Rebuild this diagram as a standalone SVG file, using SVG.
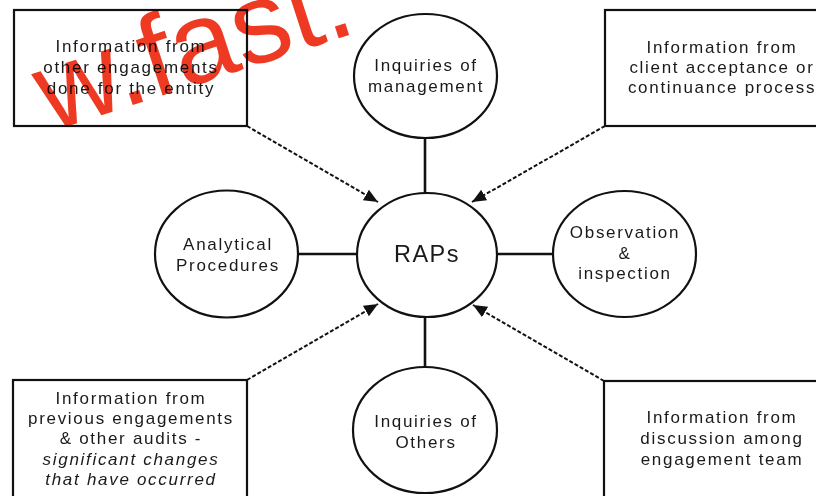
<svg xmlns="http://www.w3.org/2000/svg" width="816" height="496" viewBox="0 0 816 496">
<style>
.box{fill:#fff;stroke:#111;stroke-width:2.2}
.node{fill:#fff;stroke:#111;stroke-width:2.2}
.t{font-family:"Liberation Sans",Arial,sans-serif;font-size:17px;letter-spacing:1.7px;fill:#1a1a1a;text-anchor:middle}
.it{font-style:italic}
.big{font-size:23.5px;letter-spacing:1.5px}
.solid{stroke:#111;stroke-width:2.6;fill:none}
.dash{stroke:#111;stroke-width:2;fill:none;stroke-dasharray:4 2}
.wm{font-family:"Liberation Sans",Arial,sans-serif;font-size:115px;fill:#ee3a22;mix-blend-mode:multiply}
</style>
<defs>
<marker id="ah" markerUnits="userSpaceOnUse" markerWidth="16" markerHeight="14" refX="14" refY="6" orient="auto">
<path d="M0,0 L14,6 L0,12 Z" fill="#111"/>
</marker>
</defs>
<rect width="816" height="496" fill="#fff"/>

<g id="connectors">
<line class="solid" x1="425" y1="138" x2="425" y2="193"/>
<line class="solid" x1="425" y1="317" x2="425" y2="367"/>
<line class="solid" x1="298" y1="254" x2="357" y2="254"/>
<line class="solid" x1="497" y1="254" x2="554" y2="254"/>
<line class="dash" x1="247" y1="126" x2="378" y2="202" marker-end="url(#ah)"/>
<line class="dash" x1="605" y1="126" x2="472" y2="202" marker-end="url(#ah)"/>
<line class="dash" x1="247" y1="380" x2="378" y2="304" marker-end="url(#ah)"/>
<line class="dash" x1="604" y1="381" x2="473" y2="305" marker-end="url(#ah)"/>
</g>

<g id="box-other-engagements">
<rect class="box" x="14" y="10" width="233" height="116"/>
<text class="t" x="131" y="52">Information from</text>
<text class="t" x="131" y="73">other engagements</text>
<text class="t" x="131" y="94">done for the entity</text>
</g>

<g id="box-client-acceptance">
<rect class="box" x="605" y="10" width="240" height="116"/>
<text class="t" x="722" y="53">Information from</text>
<text class="t" x="722" y="73">client acceptance or</text>
<text class="t" x="722" y="93">continuance process</text>
</g>

<g id="box-previous-engagements">
<rect class="box" x="13" y="380" width="234" height="130"/>
<text class="t" x="131" y="404">Information from</text>
<text class="t" x="131" y="424">previous engagements</text>
<text class="t" x="131" y="444">&amp; other audits -</text>
<text class="t it" x="131" y="465">significant changes</text>
<text class="t it" x="131" y="485">that have occurred</text>
</g>

<g id="box-discussion">
<rect class="box" x="604" y="381" width="240" height="130"/>
<text class="t" x="722" y="423">Information from</text>
<text class="t" x="722" y="444">discussion among</text>
<text class="t" x="722" y="465">engagement team</text>
</g>

<g id="node-inquiries-management">
<ellipse class="node" cx="425.5" cy="76" rx="71.5" ry="62"/>
<text class="t" x="426" y="71">Inquiries of</text>
<text class="t" x="426" y="92">management</text>
</g>

<g id="node-raps">
<ellipse class="node" cx="427" cy="255" rx="70" ry="62"/>
<text class="t big" x="427" y="262">RAPs</text>
</g>

<g id="node-analytical">
<ellipse class="node" cx="226.5" cy="254" rx="71.5" ry="63.5"/>
<text class="t" x="228" y="250">Analytical</text>
<text class="t" x="228" y="271">Procedures</text>
</g>

<g id="node-observation">
<ellipse class="node" cx="624.5" cy="254" rx="71.5" ry="63"/>
<text class="t" x="625" y="238">Observation</text>
<text class="t" x="625" y="259">&amp;</text>
<text class="t" x="625" y="279">inspection</text>
</g>

<g id="node-inquiries-others">
<ellipse class="node" cx="425" cy="430" rx="72" ry="63"/>
<text class="t" x="426" y="427">Inquiries of</text>
<text class="t" x="426" y="448">Others</text>
</g>

<text class="wm" x="50" y="132" textLength="325" lengthAdjust="spacingAndGlyphs" transform="rotate(-18 50 132)">w.fast.</text>
</svg>
